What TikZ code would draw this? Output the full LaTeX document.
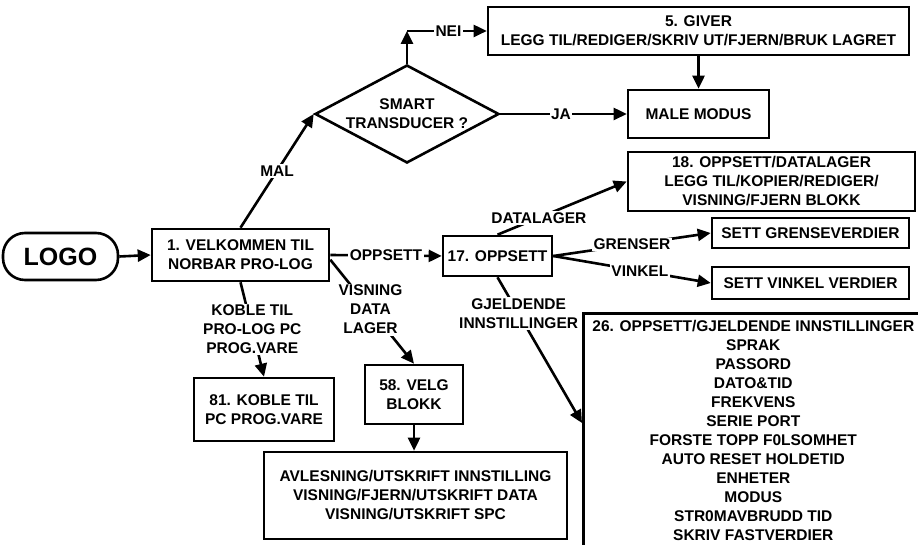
\documentclass[tikz,border=0pt]{standalone}
\usepackage{fontspec}
\setmainfont{Liberation Sans}
\usetikzlibrary{arrows.meta,shapes.geometric,calc}
\begin{document}
\begin{tikzpicture}[x=1pt,y=-1pt,
  every node/.style={font=\fontsize{15.5}{19}\selectfont\bfseries, text=black},
  box/.style={draw, line width=2.6pt, inner sep=0pt, align=center},
  lbl/.style={fill=white, inner sep=1.5pt, align=center},
  arr/.style={line width=2.6pt, -{Triangle[length=13pt,width=12pt]}}]
\clip (0,0) rectangle (918,545);
% nodes
\node[box, rounded corners=22pt, minimum width=115pt, minimum height=47pt,
      font=\fontsize{25}{30}\selectfont\bfseries] (logo) at (60.5,256.5) {LOGO};
\node[box, minimum width=177pt, minimum height=52pt] (b1) at (240.5,255) {1. VELKOMMEN TIL\\NORBAR PRO-LOG};
\node[box, diamond, aspect=1.88, minimum width=184pt, minimum height=98pt] (d) at (407,114) {SMART\\TRANSDUCER ?};
\node[box, minimum width=421pt, minimum height=48pt] (b5) at (698.5,31) {5. GIVER\\LEGG TIL/REDIGER/SKRIV UT/FJERN/BRUK LAGRET};
\node[box, minimum width=141pt, minimum height=48pt] (mm) at (698.5,114) {MALE MODUS};
\node[box, minimum width=287pt, minimum height=59pt] (b18) at (771.5,181.5) {18. OPPSETT/DATALAGER\\LEGG TIL/KOPIER/REDIGER/\\VISNING/FJERN BLOKK};
\node[box, minimum width=109pt, minimum height=40pt] (b17) at (497.5,256) {17. OPPSETT};
\node[box, minimum width=197pt, minimum height=30pt] (sg) at (810.5,233) {SETT GRENSEVERDIER};
\node[box, minimum width=197pt, minimum height=32pt] (sv) at (810.5,283) {SETT VINKEL VERDIER};
\node[draw, line width=2.6pt, anchor=north west, inner xsep=0pt, inner ysep=7pt] (b26) at (582,312)
  {\begin{minipage}[t][250pt][t]{340pt}\centering
   26. OPPSETT/GJELDENDE INNSTILLINGER\\SPRAK\\PASSORD\\DATO\&TID\\FREKVENS\\SERIE PORT\\FORSTE TOPP F0LSOMHET\\AUTO RESET HOLDETID\\ENHETER\\MODUS\\STR0MAVBRUDD TID\\SKRIV FASTVERDIER
   \end{minipage}};
\node[box, minimum width=140pt, minimum height=63pt] (b81) at (264,409.5) {81. KOBLE TIL\\PC PROG.VARE};
\node[box, minimum width=98pt, minimum height=59pt] (b58) at (414,394.5) {58. VELG\\BLOKK};
\node[box, minimum width=303pt, minimum height=87pt] (bb) at (415.5,495.5) {AVLESNING/UTSKRIFT INNSTILLING\\VISNING/FJERN/UTSKRIFT DATA\\VISNING/UTSKRIFT SPC};
\coordinate (nc) at (407,31);
\coordinate (g26) at (582,423);
% connectors
\draw[arr] (logo.east) -- (b1.west);
\draw[arr] (b1.north) -- node[lbl]{MAL} (d.west);
\draw[arr] (d.north) -- (nc);
\draw[arr] (nc) -- node[lbl,pos=0.52]{NEI} (b5.west);
\draw[arr] (d.east) -- node[lbl,pos=0.48]{JA} (mm.west);
\draw[arr] (b5.south) -- (mm.north);
\draw[arr] (b1.east) -- node[lbl]{OPPSETT} (b17.west);
\draw[arr] (b17.north) -- node[lbl,pos=0.32]{DATALAGER} (b18.west);
\draw[arr] (b17.east) -- node[lbl]{GRENSER} (sg.west);
\draw[arr] (b17.east) -- node[lbl,pos=0.55]{VINKEL} (sv.west);
\draw[arr] (b17.south) -- node[lbl,pos=0.25]{GJELDENDE\\INNSTILLINGER} (g26);
\draw[arr] (b1.south) -- node[lbl]{KOBLE TIL\\PRO-LOG PC\\PROG.VARE} (b81.north);
\draw[arr] (b1.-3) -- node[lbl,pos=0.48]{VISNING\\DATA\\LAGER} (b58.north);
\draw[arr] (b58.south) -- (b58.south |- bb.north);
\end{tikzpicture}
\end{document}
